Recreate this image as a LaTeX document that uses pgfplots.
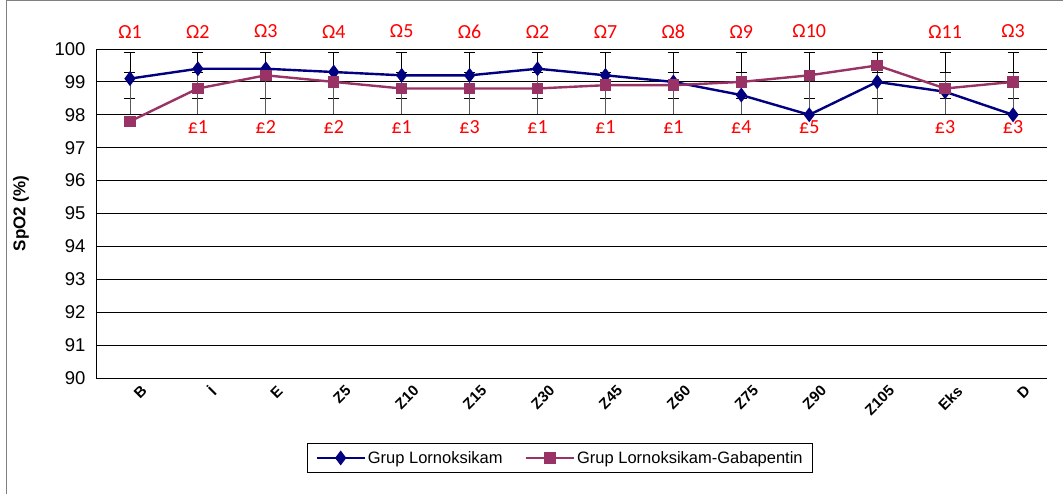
\documentclass[border=0pt]{standalone}
\usepackage{fontspec}
\setmainfont{Liberation Sans}
\newfontfamily\calibri{Carlito}
\usepackage{pgfplots}
\pgfplotsset{compat=1.18}
\definecolor{sblue}{HTML}{000080}
\definecolor{spurple}{HTML}{993366}
\begin{document}
\begin{tikzpicture}
\begin{axis}[
  at={(0,0)}, anchor=south west,
  scale only axis, width=951bp, height=329bp,
  xmin=-0.5, xmax=13.5, ymin=90, ymax=100,
  clip=false,
  axis x line*=bottom, axis y line*=left,
  axis line style={-, black, line width=0.8bp},
  ymajorgrids, grid style={black, line width=0.8bp},
  ytick={90,91,...,100},
  xtick={0,...,13},
  xticklabels={B,İ,E,Z5,Z10,Z15,Z30,Z45,Z60,Z75,Z90,Z105,Eks,D},
  major tick length=0pt,
  /pgf/number format/assume math mode=true,
  yticklabel style={font=\fontsize{18.5bp}{21bp}\selectfont, xshift=-7bp},
  xticklabel style={font=\bfseries\fontsize{15bp}{17bp}\selectfont, rotate=45, anchor=north east, inner sep=0pt, yshift=-12bp, xshift=3bp},
  every axis y label/.style={at={(axis description cs:-0.0789,0.5)}, rotate=90, anchor=center, font=\bfseries\fontsize{17bp}{20bp}\selectfont},
  ylabel={SpO2 (\%)},
  legend style={at={(axis description cs:0.488,-0.243)}, anchor=center, draw=black, line width=0.8bp,
    font=\fontsize{16.5bp}{19bp}\selectfont, legend columns=2,
    inner xsep=8bp, inner ysep=6bp,
    /tikz/every even column/.append style={column sep=20bp}},
  legend cell align=left,
  legend image code/.code={\draw[mark repeat=2,mark phase=2] plot coordinates {(0bp,0bp) (24bp,0bp) (48bp,0bp)};},
]
% error bars (two overlapping ranges per category)
\addplot[draw=none, mark=none, forget plot,
  error bars/.cd, y dir=both, y explicit,
  error bar style={draw=black, line width=0.8bp},
  error mark options={draw=black, rotate=90, mark size=5.5bp, line width=0.8bp}]
coordinates {
(0,99.2) +- (0,0.7) (1,99.2) +- (0,0.7) (2,99.2) +- (0,0.7) (3,99.2) +- (0,0.7)
(4,99.2) +- (0,0.7) (5,99.2) +- (0,0.7) (6,99.2) +- (0,0.7) (7,99.2) +- (0,0.7)
(8,99.2) +- (0,0.7) (9,99.2) +- (0,0.7) (10,99.2) +- (0,0.7) (11,99.2) +- (0,0.7)
(12,99.2) +- (0,0.7) (13,99.2) +- (0,0.7)};
\addplot[draw=none, mark=none, forget plot,
  error bars/.cd, y dir=both, y explicit,
  error bar style={draw=gray!70!black, line width=0.8bp},
  error mark options={draw=black, rotate=90, mark size=5.5bp, line width=0.8bp}]
coordinates {
(0,98.65) +- (0,0.65) (1,98.65) +- (0,0.65) (2,98.65) +- (0,0.65) (3,98.65) +- (0,0.65)
(4,98.65) +- (0,0.65) (5,98.65) +- (0,0.65) (6,98.65) +- (0,0.65) (7,98.65) +- (0,0.65)
(8,98.65) +- (0,0.65) (9,98.65) +- (0,0.65) (10,98.65) +- (0,0.65) (11,98.65) +- (0,0.65)
(12,98.65) +- (0,0.65) (13,98.65) +- (0,0.65)};
\addplot[sblue, line width=2.4bp, mark=diamond*, mark size=5.5bp, mark options={solid, sblue}]
coordinates {(0,99.1) (1,99.4) (2,99.4) (3,99.3) (4,99.2) (5,99.2) (6,99.4) (7,99.2)
(8,99.0) (9,98.6) (10,98.0) (11,99.0) (12,98.7) (13,98.0)};
\addlegendentry{Grup Lornoksikam}
\addplot[spurple, line width=2.4bp, mark=square*, mark size=4.5bp, mark options={solid, spurple}]
coordinates {(0,97.8) (1,98.8) (2,99.2) (3,99.0) (4,98.8) (5,98.8) (6,98.8) (7,98.9)
(8,98.9) (9,99.0) (10,99.2) (11,99.5) (12,98.8) (13,99.0)};
\addlegendentry{Grup Lornoksikam-Gabapentin}
% annotations
\begin{scope}[every node/.style={text=red, font=\calibri\fontsize{20bp}{23bp}\selectfont, inner sep=0pt}]
\node at (axis cs:0,100.53) {Ω1};
\node at (axis cs:1,100.53) {Ω2};
\node at (axis cs:2,100.53) {Ω3};
\node at (axis cs:3,100.53) {Ω4};
\node at (axis cs:4,100.53) {Ω5};
\node at (axis cs:5,100.53) {Ω6};
\node at (axis cs:6,100.53) {Ω2};
\node at (axis cs:7,100.53) {Ω7};
\node at (axis cs:8,100.53) {Ω8};
\node at (axis cs:9,100.53) {Ω9};
\node at (axis cs:10,100.53) {Ω10};
\node at (axis cs:12,100.53) {Ω11};
\node at (axis cs:13,100.53) {Ω3};
\node at (axis cs:1,97.63) {£1};
\node at (axis cs:2,97.63) {£2};
\node at (axis cs:3,97.63) {£2};
\node at (axis cs:4,97.63) {£1};
\node at (axis cs:5,97.63) {£3};
\node at (axis cs:6,97.63) {£1};
\node at (axis cs:7,97.63) {£1};
\node at (axis cs:8,97.63) {£1};
\node at (axis cs:9,97.63) {£4};
\node at (axis cs:10,97.63) {£5};
\node at (axis cs:12,97.63) {£3};
\node at (axis cs:13,97.63) {£3};
\end{scope}
\end{axis}
\path[use as bounding box] (-96bp,-116bp) rectangle (967bp,378bp);
\draw[gray, line width=1bp] (-89bp,-116bp) -- (-89bp,377.5bp) -- (967bp,377.5bp);
\end{tikzpicture}
\end{document}
